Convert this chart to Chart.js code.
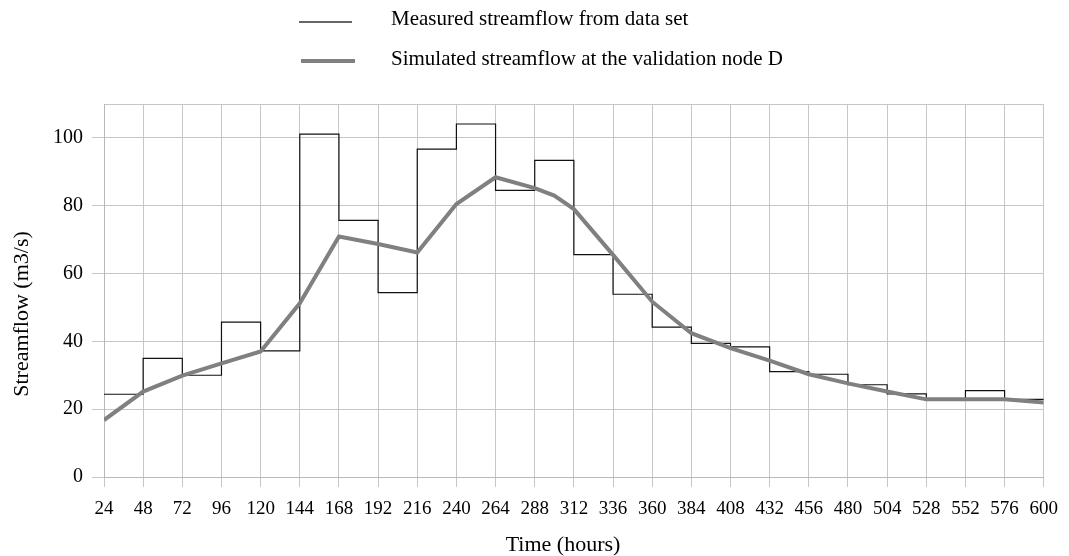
<!DOCTYPE html>
<html>
<head>
<meta charset="utf-8">
<script src="https://cdn.jsdelivr.net/npm/chart.js@4/dist/chart.umd.min.js"></script>
<style>
  html, body { margin: 0; padding: 0; background: #fff; }
  #wrap { width: 1069px; height: 556px; position: relative; }
</style>
</head>
<body>
<div id="wrap"><canvas id="flow"></canvas></div>
<script>
// Measured streamflow: one value per 24 h step (value holds until next hour mark)
const stepHours = [24, 48, 72, 96, 120, 144, 168, 192, 216, 240, 264, 288, 312,
                   336, 360, 384, 408, 432, 456, 480, 504, 528, 552, 576, 600];
const measuredFlow = [24.4, 35.0, 30.0, 45.7, 37.2, 101.1, 75.7, 54.4, 96.7, 104.1, 84.5, 93.4, 65.6,
                      53.9, 44.2, 39.4, 38.4, 31.1, 30.3, 27.2, 24.5, 22.9, 25.5, 22.9, 22.9];

// Simulated streamflow at validation node D
const simHours = [24, 48, 72, 96, 120, 144, 168, 192, 216, 240, 264, 288, 300, 312,
                  336, 360, 384, 408, 432, 456, 480, 504, 528, 552, 576, 600];
const simFlow = [16.8, 25.2, 29.9, 33.5, 37.0, 51.2, 70.9, 68.7, 66.2, 80.5, 88.4, 85.2, 83.0, 79.0,
                 65.5, 51.7, 42.4, 38.0, 34.3, 30.3, 27.6, 25.2, 22.9, 22.9, 22.9, 22.0];

const seriesLabels = ['Measured streamflow from data set', 'Simulated streamflow at the validation node D'];
const xTitle = 'Time (hours)';
const yTitle = 'Streamflow (m3/s)';

const serif = '"Liberation Serif", "DejaVu Serif", serif';
const gridGray = '#c6c6c6';

// legend + axis titles drawn by hand so they sit where the original puts them
const decorations = {
    id: 'decorations',
    afterDraw(chart) {
        const ctx = chart.ctx;
        ctx.save();
        ctx.fillStyle = '#000';
        ctx.textBaseline = 'middle';
        ctx.textAlign = 'left';
        ctx.font = '21px ' + serif;

        const rows = [
            { y: 22, ty: 19, x0: 299, x1: 352, w: 1.3, c: '#333' },
            { y: 61, ty: 59, x0: 301, x1: 355, w: 4, c: '#808080' }
        ];
        rows.forEach(function (r, i) {
            ctx.strokeStyle = r.c;
            ctx.lineWidth = r.w;
            ctx.beginPath();
            ctx.moveTo(r.x0, r.y);
            ctx.lineTo(r.x1, r.y);
            ctx.stroke();
            ctx.fillText(seriesLabels[i], 391, r.ty);
        });

        ctx.font = '22px ' + serif;
        ctx.textAlign = 'center';
        ctx.fillText(xTitle, 563, 545);

        ctx.translate(22, 314);
        ctx.rotate(-Math.PI / 2);
        ctx.fillText(yTitle, 0, 0);
        ctx.restore();
    }
};

const chart = new Chart(document.getElementById('flow').getContext('2d'), {
    type: 'line',
    data: {
        datasets: [
            {
                label: seriesLabels[0],
                data: stepHours.map((h, i) => ({ x: h, y: measuredFlow[i] })),
                stepped: 'before',
                borderColor: '#111',
                borderWidth: 1.2,
                pointRadius: 0,
                fill: false,
                order: 2
            },
            {
                label: seriesLabels[1],
                data: simHours.map((h, i) => ({ x: h, y: simFlow[i] })),
                borderColor: '#808080',
                borderWidth: 4,
                pointRadius: 0,
                tension: 0,
                fill: false,
                order: 1
            }
        ]
    },
    options: {
        responsive: true,
        maintainAspectRatio: false,
        animation: false,
        layout: { padding: { top: 104, right: 19, left: 0, bottom: 0 } },
        plugins: {
            legend: { display: false },
            tooltip: { enabled: false }
        },
        scales: {
            x: {
                type: 'linear',
                min: 24,
                max: 600,
                ticks: { stepSize: 24, color: '#000', font: { family: serif, size: 19 }, padding: 11, maxRotation: 0, autoSkip: false },
                grid: { color: gridGray, tickLength: 10, tickColor: gridGray },
                border: { color: '#b8b8b8' },
                afterFit: function (s) { s.height = 79; }
            },
            y: {
                min: 0,
                max: 110,
                ticks: {
                    stepSize: 20,
                    color: '#000',
                    font: { family: serif, size: 20 },
                    padding: 9,
                    callback: v => (v === 110 ? '' : v)
                },
                grid: {
                    color: gridGray,
                    tickLength: 12,
                    tickColor: c => (c.tick && c.tick.value === 110 ? 'rgba(0,0,0,0)' : gridGray)
                },
                border: { color: '#b8b8b8' },
                afterFit: function (s) { s.width = 104; }
            }
        }
    },
    plugins: [decorations]
});
</script>
</body>
</html>
